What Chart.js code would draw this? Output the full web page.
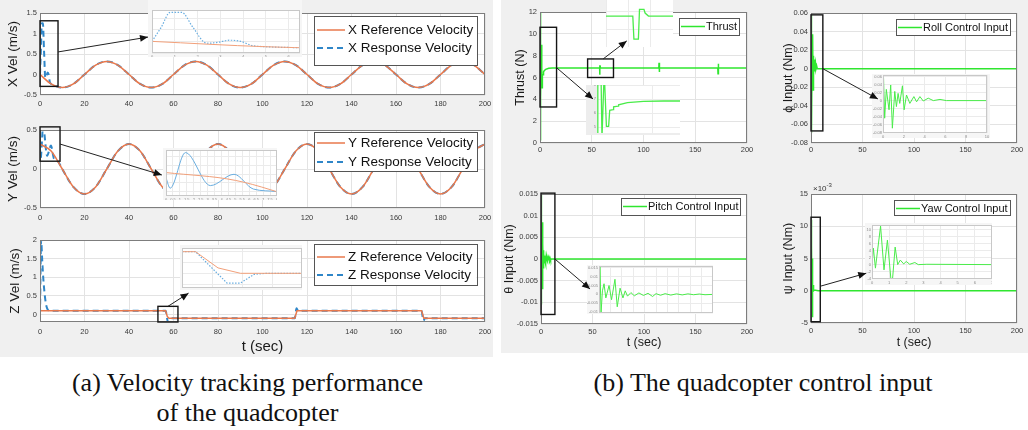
<!DOCTYPE html>
<html lang="en">
<head>
  <meta charset="UTF-8" />
  <title>Quadcopter velocity tracking and control input</title>
  <script src="https://cdn.jsdelivr.net/npm/chart.js@4.4.1/dist/chart.umd.min.js"></script>
  <style>
    body { margin: 0; width: 1028px; height: 430px; background: #fff; position: relative; overflow: hidden; }
    .panel { position: absolute; background: #f0f0f0; z-index: 0; }
    .box { position: absolute; }
    .box canvas { display: block; }
    .cap { position: absolute; font-family: "Liberation Serif", "Times New Roman", serif; font-size: 26px; line-height: 30px; text-align: center; color: #111; }
    #overlay { position: absolute; left: 0; top: 0; z-index: 3; }
  </style>
</head>
<body>
  <div class="panel" style="left:0;top:0;width:493px;height:357px"></div>
  <div class="panel" style="left:501px;top:0;width:527px;height:353px"></div>
  <div class="cap" style="left:0;top:368px;width:495px">(a) Velocity tracking performance<br>of the quadcopter</div>
  <div class="cap" style="left:513px;top:368px;width:500px">(b) The quadcopter control input</div>
  <canvas id="overlay" width="1028" height="430"></canvas>

<script>
// ---- data ----
// left panel: time base of the reference curves (s)
const T5 = [0,5,10,15,20,25,30,35,40,45,50,55,60,65,70,75,80,85,90,95,100,
            105,110,115,120,125,130,135,140,145,150,155,160,165,170,175,180,185,190,195,200];

// X velocity (m/s)
const xRef = [0,-0.23,-0.32,-0.23,0,0.23,0.32,0.23, 0,-0.23,-0.32,-0.23,0,0.23,0.32,0.23,
              0,-0.23,-0.32,-0.23,0,0.23,0.32,0.23, 0,-0.23,-0.32,-0.23,0,0.23,0.32,0.23,
              0,-0.23,-0.32,-0.23,0,0.23,0.32,0.23, 0];
const xRespT = [0,0.4,0.8,1.3,1.8,2.4,2.9,3.4,3.9,4.4,5,5.5,6.5,
                10,15,20,25,30,35,40,45,50,55,60,65,70,75,80,85,90,95,100,
                105,110,115,120,125,130,135,140,145,150,155,160,165,170,175,180,185,190,195,200];
const xRespV = [0,0.6,1.25,1.25,0.6,-0.08,-0.04,0.05,0,-0.18,-0.23,-0.25,-0.27,
                -0.32,-0.23,0,0.23,0.32,0.23,
                0,-0.23,-0.32,-0.23,0,0.23,0.32,0.23, 0,-0.23,-0.32,-0.23,0,0.23,0.32,0.23,
                0,-0.23,-0.32,-0.23,0,0.23,0.32,0.23, 0,-0.23,-0.32,-0.23,0,0.23,0.32,0.23, 0];

// Y velocity (m/s)
const yRef = [0.32,0.23,0,-0.23,-0.32,-0.23,0,0.23, 0.32,0.23,0,-0.23,-0.32,-0.23,0,0.23,
              0.32,0.23,0,-0.23,-0.32,-0.23,0,0.23, 0.32,0.23,0,-0.23,-0.32,-0.23,0,0.23,
              0.32,0.23,0,-0.23,-0.32,-0.23,0,0.23, 0.32];
const yRespT = [0,0.3,1.4,3.2,4.9,6.3,8,
                10,15,20,25,30,35,40,45,50,55,60,65,70,75,80,85,90,95,100,
                105,110,115,120,125,130,135,140,145,150,155,160,165,170,175,180,185,190,195,200];
const yRespV = [0.26,0.14,0.55,0.17,0.3,0.13,0.1,
                0,-0.23,-0.32,-0.23,0,0.23,
                0.32,0.23,0,-0.23,-0.32,-0.23,0,0.23, 0.32,0.23,0,-0.23,-0.32,-0.23,0,0.23,
                0.32,0.23,0,-0.23,-0.32,-0.23,0,0.23, 0.32,0.23,0,-0.23,-0.32,-0.23,0,0.23, 0.32];

// Z velocity (m/s)
const zRefT = [0,56.45,57.2,57.95,114.5,115.5,171.5,172.5,200];
const zRefV = [0.1,0.1,-0.05,-0.1,-0.1,0.1,0.1,-0.1,-0.1];
const zRespT = [0,0.5,1,1.5,2,2.5,3,3.5,4.5,56.45,57.5,57.95,58.4,58.8,114.5,115.3,116,171.5,172.3,173,200];
const zRespV = [0,2,1.45,0.95,0.6,0.35,0.2,0.13,0.1,0.1,-0.19,-0.19,-0.11,-0.1,-0.1,0.17,0.1,0.1,-0.17,-0.1,-0.1];

// right panel: thrust (N)
const thrT = [0,0.15,0.6,0.9,1.3,1.7,2.1,2.3,2.9,3.0,3.8,3.9,5.5,8.4,12,
              57.6,57.65,57.85,57.9,58.1,58.15,58.3,
              114.8,115,115.2,115.4,115.6,171.8,172,172.2,172.4,172.6,200];
const thrV = [0.3,12,12,4.2,9,5.05,5.05,6.2,6.25,6.45,6.5,6.6,6.75,6.85,6.87,
              6.87,6.25,6.25,7.05,7.05,6.95,6.87,
              6.87,7.35,6.5,6.95,6.87,6.87,6.35,7.25,6.9,6.87,6.87];

// roll control input (Nm)
const rollT = [0,0.05,0.16,0.32,0.58,0.74,0.9,1.13,1.29,1.45,1.61,1.87,2.03,2.26,2.58,2.97,
               3.23,3.55,3.87,4.35,4.84,5.48,6.1,10,200];
const rollV = [0,0.058,-0.044,0.028,-0.023,0.039,-0.069,0.023,-0.015,0.018,-0.007,0.037,-0.023,0.014,
               -0.007,0.01,-0.003,0.01,-0.001,0.006,0,0.003,0,0,0];

// pitch control input (Nm)
const pitchT = [0,0.08,0.18,0.3,0.44,0.6,0.88,1.1,1.4,1.6,1.85,2.1,2.3,2.5,2.8,3.1,3.5,3.9,4.3,4.7,
                5,5.4,5.8,6.3,6.8,7.3,7.8,8.3,8.8,9.3,10,200];
const pitchV = [0,0.016,-0.0105,0.002,0.006,-0.002,0.005,-0.003,0.0085,-0.007,0.0035,-0.002,0.002,-0.001,
                0.001,-0.0008,0.0008,-0.0006,0.0006,-0.0012,0.0004,-0.0005,0.0004,-0.0004,0.0003,-0.0003,
                0.0003,-0.0002,0.0002,-0.0002,0,0];

// yaw control input (Nm)
const yawT = [0,0.08,0.2,0.5,0.7,0.9,1.1,1.2,1.35,1.5,1.65,1.85,2.0,2.2,2.5,2.7,3.2,7,200];
const yawV = [0,0.0047,-0.001,0.011,-0.0015,0.007,-0.004,-0.004,0.005,0,0.0013,0.0002,0.0009,0.0001,
              0.0006,0,0.0001,0,0];

// ---- drawing ----
const SANS = '"Liberation Sans", Arial, Helvetica, sans-serif';
const ORANGE = '#e8784c', BLUE = '#2f86c8', GREEN = '#2fe62f';
const ORANGE_L = '#f2a07a', BLUE_L = '#6aaee0', GREEN_L = '#4aec4a';

const pts = (ts, vs) => ts.map((t, i) => ({x: t, y: vs[i]}));
const fmt = v => String(+v.toFixed(6));

function line(data, color, width, dash, label, smooth) {
  return {label: label || '', data, borderColor: color, borderWidth: width, borderDash: dash || [],
          cubicInterpolationMode: smooth ? 'monotone' : 'default', tension: 0, fill: false, pointRadius: 0};
}

// white plot area, MATLAB-like frame, zoom boxes, boxed legend
const panelPlugin = {
  id: 'panel',
  beforeDraw(chart, args, o) {
    const {ctx, chartArea: a} = chart;
    ctx.save();
    if (o.canvasBg) { ctx.fillStyle = o.canvasBg; ctx.fillRect(0, 0, chart.width, chart.height); }
    ctx.fillStyle = '#fff';
    ctx.fillRect(a.left, a.top, a.width, a.height);
    ctx.restore();
  },
  afterDatasetsDraw(chart, args, o) {
    const {ctx, chartArea: a, scales: {x, y}} = chart;
    ctx.save();
    if (o.frame) {
      ctx.strokeStyle = o.frame; ctx.lineWidth = 1;
      ctx.strokeRect(a.left + 0.5, a.top + 0.5, a.width - 1, a.height - 1);
    }
    (o.boxes || []).forEach(b => {
      const x0 = x.getPixelForValue(b.x0), x1 = x.getPixelForValue(b.x1);
      const y0 = y.getPixelForValue(b.y1), y1 = y.getPixelForValue(b.y0);
      ctx.strokeStyle = '#151515'; ctx.lineWidth = 1.4;
      ctx.strokeRect(x0, y0, x1 - x0, y1 - y0);
    });
    if (o.exp) {
      ctx.fillStyle = '#333';
      ctx.textBaseline = 'alphabetic';
      ctx.font = '8px ' + SANS;
      ctx.fillText('\u00d710', a.left + 2, a.top - 3);
      const w = ctx.measureText('\u00d710').width;
      ctx.font = '6px ' + SANS;
      ctx.fillText('-3', a.left + 2 + w, a.top - 7);
    }
    const L = o.legend;
    if (L) {
      ctx.font = L.size + 'px ' + SANS;
      const items = chart.data.datasets.filter(d => d.label);
      const tw = Math.max(...items.map(d => ctx.measureText(d.label).width));
      const w = L.pad + L.sample + L.gap + tw + L.padR;
      const bx = Math.round(a.right - L.mr - w), by = Math.round(a.top + L.mt);
      ctx.fillStyle = '#fff';
      ctx.fillRect(bx, by, w, L.h);
      ctx.strokeStyle = '#555'; ctx.lineWidth = 1;
      ctx.strokeRect(bx + 0.5, by + 0.5, Math.round(w), L.h);
      items.forEach((d, i) => {
        const yy = by + L.rows[i];
        ctx.strokeStyle = d.borderColor; ctx.lineWidth = d.borderWidth;
        ctx.setLineDash(d.borderDash || []);
        ctx.beginPath(); ctx.moveTo(bx + L.pad, yy); ctx.lineTo(bx + L.pad + L.sample, yy); ctx.stroke();
        ctx.setLineDash([]);
        ctx.fillStyle = '#111'; ctx.textBaseline = 'middle';
        ctx.fillText(d.label, bx + L.pad + L.sample + L.gap, yy + 0.5);
      });
    }
    ctx.restore();
  }
};

function build(cfg) {
  const c = cfg.c, p = cfg.p;
  const wrap = document.createElement('div');
  wrap.className = 'box';
  wrap.style.cssText = `left:${c.x}px;top:${c.y}px;width:${c.w}px;height:${c.h}px;z-index:${cfg.inset ? 2 : 1}`;
  const cv = document.createElement('canvas');
  cv.width = c.w; cv.height = c.h;
  wrap.appendChild(cv);
  document.body.appendChild(wrap);

  const yW = p.l - c.x, xH = c.y + c.h - p.b;
  const small = !!cfg.inset;
  const tickFont = {family: SANS, size: small ? 4 : 7.5};
  const noPad = s => { s.paddingLeft = s.paddingRight = s.paddingTop = s.paddingBottom = 0; };
  const axis = (ax, fit) => ({
    type: 'linear', min: ax.min, max: ax.max,
    afterFit: s => { fit(s); noPad(s); },
    ticks: {stepSize: ax.step, includeBounds: false, autoSkip: false, maxRotation: 0,
            display: ax.labels !== false, font: tickFont, color: small ? '#8a8a8a' : '#3a3a3a',
            padding: ax.pad ?? (small ? 1 : 3), callback: ax.fmt || fmt},
    grid: {color: small ? '#ebebeb' : '#e3e3e3', drawTicks: false, lineWidth: 1},
    border: {display: false},
    title: ax.title
      ? {display: true, text: ax.title, color: '#1a1a1a', font: {family: SANS, size: ax.titleSize}, padding: ax.titlePad}
      : {display: false}
  });

  const chart = new Chart(cv, {
    type: 'line',
    data: {datasets: cfg.datasets},
    options: {
      responsive: false, animation: false, events: [],
      layout: {padding: {top: p.t - c.y, right: c.x + c.w - p.r, left: 0, bottom: 0}, autoPadding: false},
      elements: {point: {radius: 0}},
      plugins: {legend: {display: false}, tooltip: {enabled: false}, panel: cfg.panel || {}},
      scales: {
        x: axis(cfg.x, s => { s.height = xH; }),
        y: axis(cfg.y, s => { s.width = yW; })
      }
    },
    plugins: [panelPlugin]
  });
  chart.$rect = c;
  return chart;
}

const legL = rows => ({mr: 8, size: 13.5, pad: 3, sample: 28, gap: 3, padR: 4, ...rows});
const legR = rows => ({mr: 7, size: 11, pad: 2, sample: 24, gap: 1, padR: 2, rows: [8.5], ...rows});
const tTitleL = {title: 't (sec)', titleSize: 15, titlePad: {top: 0, bottom: 1}};
const tTitleR = {title: 't (sec)', titleSize: 12.5, titlePad: {top: 0, bottom: 2.5}};

// ---- main axes: left panel ----
const chX = build({
  c: {x: 0, y: 0, w: 493, h: 118}, p: {l: 40, t: 13, r: 485, b: 95},
  x: {min: 0, max: 200, step: 20, pad: 4},
  y: {min: -0.5, max: 1.5, step: 0.5, title: 'X Vel (m/s)', titleSize: 13.5, titlePad: {top: 5, bottom: 0}},
  datasets: [line(pts(T5, xRef), ORANGE, 1.5, null, 'X Reference Velocity', true),
             line(pts(xRespT, xRespV), BLUE, 2, [6, 4], 'X Response Velocity', true)],
  panel: {frame: '#7d7d7d', boxes: [{x0: 0, x1: 8.1, y0: -0.29, y1: 1.31}],
          legend: legL({mt: 3, h: 49, rows: [14, 32]})}
});

const chY = build({
  c: {x: 0, y: 118, w: 493, h: 116}, p: {l: 40, t: 130, r: 485, b: 208},
  x: {min: 0, max: 200, step: 20, pad: 5},
  y: {min: -0.5, max: 0.5, step: 0.5, title: 'Y Vel (m/s)', titleSize: 13.5, titlePad: {top: 5, bottom: 0}},
  datasets: [line(pts(T5, yRef), ORANGE, 1.5, null, 'Y Reference Velocity', true),
             line(pts(yRespT, yRespV), BLUE, 2, [6, 4], 'Y Response Velocity', true)],
  panel: {frame: '#7d7d7d', boxes: [{x0: 0, x1: 9, y0: 0.1, y1: 0.54}],
          legend: legL({mt: 2, h: 39, rows: [11, 30]})}
});

const chZ = build({
  c: {x: 0, y: 234, w: 493, h: 123}, p: {l: 40, t: 240, r: 485, b: 322},
  x: {min: 0, max: 200, step: 20, pad: 5, ...tTitleL},
  y: {min: -0.2, max: 2, step: 0.5, title: 'Z Vel (m/s)', titleSize: 13.5, titlePad: {top: 7, bottom: 0}},
  datasets: [line(pts(zRefT, zRefV), ORANGE, 1.5, null, 'Z Reference Velocity'),
             line(pts(zRespT, zRespV), BLUE, 2, [6, 4], 'Z Response Velocity', true)],
  panel: {frame: '#7d7d7d', boxes: [{x0: 53, x1: 62, y0: -0.2, y1: 0.22}],
          legend: legL({mt: 4, h: 41, rows: [13, 31]})}
});

// ---- main axes: right panel ----
const chT = build({
  c: {x: 501, y: 0, w: 259, h: 175}, p: {l: 540, t: 12, r: 747, b: 143},
  x: {min: 0, max: 200, step: 50, pad: 2},
  y: {min: 0, max: 12, step: 2, title: 'Thrust (N)', titleSize: 12.5, titlePad: {top: 12.5, bottom: 0}},
  datasets: [line(pts(thrT, thrV), GREEN, 1.5, null, 'Thrust')],
  panel: {frame: '#7d7d7d', boxes: [{x0: 0, x1: 16, y0: 3.3, y1: 10.6}, {x0: 46, x1: 71, y0: 6.0, y1: 7.7}],
          legend: legR({mr: 8, mt: 6, h: 17})}
});

const chR = build({
  c: {x: 760, y: 0, w: 268, h: 175}, p: {l: 811, t: 13, r: 1017, b: 143},
  x: {min: 0, max: 200, step: 50, pad: 2},
  y: {min: -0.08, max: 0.06, step: 0.02, title: '\u03d5 Input (Nm)', titleSize: 12.5, titlePad: {top: 21.5, bottom: 0}},
  datasets: [line(pts(rollT, rollV), GREEN, 1.5, null, 'Roll Control Input')],
  panel: {frame: '#7d7d7d', boxes: [{x0: 0, x1: 11.5, y0: -0.067, y1: 0.058}],
          legend: legR({mt: 6, h: 16})}
});

const chP = build({
  c: {x: 501, y: 175, w: 259, h: 178}, p: {l: 541, t: 194, r: 747, b: 324},
  x: {min: 0, max: 200, step: 50, pad: 3, ...tTitleR},
  y: {min: -0.015, max: 0.015, step: 0.005, title: '\u03b8 Input (Nm)', titleSize: 12.5, titlePad: {top: 1.5, bottom: 0}},
  datasets: [line(pts(pitchT, pitchV), GREEN, 1.5, null, 'Pitch Control Input')],
  panel: {frame: '#7d7d7d', boxes: [{x0: 0, x1: 13.5, y0: -0.0128, y1: 0.0152}],
          legend: legR({mt: 4, h: 17})}
});

const chW = build({
  c: {x: 760, y: 175, w: 268, h: 178}, p: {l: 811, t: 194, r: 1017, b: 323},
  x: {min: 0, max: 200, step: 50, pad: 3, ...tTitleR},
  y: {min: -0.005, max: 0.015, step: 0.005, fmt: v => String(+(v * 1000).toFixed(3)),
      title: '\u03c8 Input (Nm)', titleSize: 12.5, titlePad: {top: 21.5, bottom: 0}},
  datasets: [line(pts(yawT, yawV), GREEN, 1.5, null, 'Yaw Control Input')],
  panel: {frame: '#7d7d7d', exp: true, boxes: [{x0: 0, x1: 9, y0: -0.0048, y1: 0.0114}],
          legend: legR({mt: 6, h: 15})}
});

// ---- zoomed insets (same data, narrower ranges) ----
const insetPanel = {canvasBg: '#f6f6f6', frame: '#c8c8c8'};
const inX = build({
  inset: true, c: {x: 148, y: 0, w: 154, h: 57}, p: {l: 152, t: 10, r: 300, b: 53},
  x: {min: 0, max: 6.5, step: 1}, y: {min: -0.5, max: 1.35, step: 0.5, labels: false},
  datasets: [line(pts(T5, xRef), ORANGE_L, 1, null, '', true),
             line(pts(xRespT, xRespV), BLUE_L, 1.2, [1.5, 1.5], '', true)],
  panel: insetPanel
});
const inY = build({
  inset: true, c: {x: 163, y: 148, w: 114, h: 52}, p: {l: 166, t: 150, r: 277, b: 196},
  x: {min: 0, max: 8, step: 0.5}, y: {min: 0.05, max: 0.58, step: 0.1, labels: false},
  datasets: [line(pts(T5, yRef), ORANGE_L, 1, null, '', true),
             line(pts(yRespT, yRespV), BLUE_L, 1, null, '', true)],
  panel: insetPanel
});
const inZ = build({
  inset: true, c: {x: 180, y: 245, w: 122, h: 45}, p: {l: 182, t: 248, r: 302, b: 288},
  x: {min: 56, max: 60, step: 1}, y: {min: -0.236, max: 0.134, step: 0.1, labels: false},
  datasets: [line(pts(zRefT, zRefV), ORANGE_L, 1),
             line(pts(zRespT, zRespV), BLUE_L, 1.2, [1.5, 1.5])],
  panel: insetPanel
});
const inT1 = build({
  inset: true, c: {x: 606, y: 0, w: 67, h: 47}, p: {l: 606, t: 0, r: 673, b: 47},
  x: {min: 56.4, max: 59.4, step: 1, labels: false}, y: {min: 6.04, max: 7.3, step: 0.5, labels: false},
  datasets: [line(pts(thrT, thrV), GREEN_L, 1.3)],
  panel: {}
});
const inT2 = build({
  inset: true, c: {x: 586, y: 85, w: 94, h: 50}, p: {l: 597, t: 85, r: 680, b: 133},
  x: {min: 0, max: 15, step: 10, labels: false}, y: {min: 4.57, max: 8.02, step: 1},
  datasets: [line(pts(thrT, thrV), GREEN_L, 1.3)],
  panel: {canvasBg: '#ededed'}
});
const inR = build({
  inset: true, c: {x: 872, y: 74, w: 118, h: 64}, p: {l: 883, t: 75, r: 987, b: 133},
  x: {min: 0, max: 10, step: 2}, y: {min: -0.081, max: 0.064, step: 0.02},
  datasets: [line(pts(rollT, rollV), GREEN_L, 1)],
  panel: insetPanel
});
const inP = build({
  inset: true, c: {x: 587, y: 265, w: 126, h: 49}, p: {l: 599, t: 266, r: 713, b: 313},
  x: {min: 0, max: 10, step: 1, labels: false}, y: {min: -0.0105, max: 0.016, step: 0.005},
  datasets: [line(pts(pitchT, pitchV), GREEN_L, 1)],
  panel: insetPanel
});
const inW = build({
  inset: true, c: {x: 865, y: 223, w: 127, h: 62}, p: {l: 872, t: 225, r: 992, b: 279},
  x: {min: 0, max: 7, step: 1}, y: {min: -0.0041, max: 0.0113, step: 0.002, fmt: v => String(+(v * 1000).toFixed(3))},
  datasets: [line(pts(yawT, yawV), GREEN_L, 1)],
  panel: insetPanel
});

// ---- arrows: from zoom box (data coords) to inset (fraction of its box) ----
const arrows = [
  {chart: chX, from: [8.1, 0.55], inset: inX, at: [0, 0.65]},
  {chart: chY, from: [9, 0.32], inset: inY, at: [-0.01, 0.52]},
  {chart: chZ, from: [57.5, 0.22], inset: inZ, at: [0.07, 1.07]},
  {chart: chT, from: [16, 6.9], inset: inT2, at: [0.075, 0.28]},
  {chart: chT, from: [61, 7.7], inset: inT1, at: [0.31, 0.87]},
  {chart: chR, from: [11.5, 0], inset: inR, at: [0.05, 0.39]},
  {chart: chP, from: [13.5, 0], inset: inP, at: [0.024, 0.49]},
  {chart: chW, from: [9, 0.0007], inset: inW, at: [0.01, 0.81]}
];

const octx = document.getElementById('overlay').getContext('2d');
octx.strokeStyle = '#222'; octx.fillStyle = '#111'; octx.lineWidth = 1;
arrows.forEach(a => {
  const r = a.chart.$rect, s = a.chart.scales;
  const x0 = r.x + s.x.getPixelForValue(a.from[0]);
  const y0 = r.y + s.y.getPixelForValue(a.from[1]);
  const ir = a.inset.$rect;
  const x1 = ir.x + a.at[0] * ir.w, y1 = ir.y + a.at[1] * ir.h;
  octx.beginPath(); octx.moveTo(x0, y0); octx.lineTo(x1, y1); octx.stroke();
  const ang = Math.atan2(y1 - y0, x1 - x0), L = 8, W = 3.5;
  octx.beginPath();
  octx.moveTo(x1, y1);
  octx.lineTo(x1 - L * Math.cos(ang) + W * Math.sin(ang), y1 - L * Math.sin(ang) - W * Math.cos(ang));
  octx.lineTo(x1 - L * Math.cos(ang) - W * Math.sin(ang), y1 - L * Math.sin(ang) + W * Math.cos(ang));
  octx.closePath(); octx.fill();
});
</script>
</body>
</html>
